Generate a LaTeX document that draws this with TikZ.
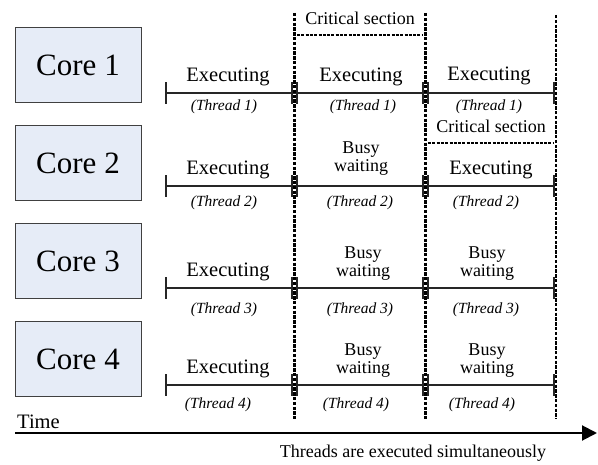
\documentclass[tikz,border=0pt]{standalone}
\usepackage{fontspec}
\setmainfont{Liberation Serif}
\usetikzlibrary{arrows.meta}
\definecolor{corefill}{HTML}{E6ECF7}
\definecolor{coredraw}{HTML}{404040}
\tikzset{
  corebox/.style={draw=coredraw, line width=1pt, fill=corefill, minimum width=126pt, minimum height=75pt, inner sep=0pt, font=\fontsize{31}{34}\selectfont},
  exe/.style={font=\fontsize{20.5}{22}\selectfont, inner sep=0pt},
  busy/.style={font=\fontsize{18}{21}\selectfont, inner sep=0pt, align=center},
  thr/.style={font=\fontsize{15.5}{17}\selectfont\itshape, inner sep=0pt},
  crit/.style={font=\fontsize{18}{20}\selectfont, inner sep=0pt},
  tline/.style={line width=1.6pt, draw=black!85},
  tick/.style={line width=2.2pt, draw=black!85},
  vdash/.style={line width=2.8pt, dash pattern=on 3.5pt off 1.3pt},
  hdash/.style={line width=2pt, dash pattern=on 3pt off 1.3pt},
}
\begin{document}
\begin{tikzpicture}[x=1pt,y=-1pt]
\useasboundingbox (0,0) rectangle (598,465);
% cores
\node[corebox] (c1) at (78,65.5) {Core 1};
\node[corebox] (c2) at (78,163.5) {Core 2};
\node[corebox] (c3) at (78,261) {Core 3};
\node[corebox] (c4) at (78,359) {Core 4};
% timelines
\foreach \r/\y in {1/93,2/186,3/288,4/385}{
  \coordinate (s\r) at (166,\y);
  \coordinate (a\r) at (292,\y);
  \coordinate (b\r) at (297,\y);
  \coordinate (m\r) at (423,\y);
  \coordinate (n\r) at (428,\y);
  \coordinate (e\r) at (554,\y);
  \draw[tline] (s\r) -- (e\r);
  \draw[tick] ([yshift=-11pt]s\r) -- ([yshift=11pt]s\r);
  \draw[tick] ([yshift=-11pt]a\r) -- ([yshift=11pt]a\r);
  \draw[tick] ([yshift=-11pt]b\r) -- ([yshift=11pt]b\r);
  \draw[tick] ([yshift=-11pt]m\r) -- ([yshift=11pt]m\r);
  \draw[tick] ([yshift=-11pt]n\r) -- ([yshift=11pt]n\r);
  \draw[tick] ([yshift=-11pt]e\r) -- ([yshift=11pt]e\r);
}
% vertical dashed lines
\coordinate (v1t) at (294.5,13); \coordinate (v1b) at (294.5,419);
\coordinate (v2t) at (425.5,13); \coordinate (v2b) at (425.5,419);
\coordinate (v3t) at (556,15); \coordinate (v3b) at (556,419);
\draw[vdash] (v1t) -- (v1b);
\draw[vdash] (v2t) -- (v2b);
\draw[vdash] (v3t) -- (v3b);
% critical sections
\node[crit] (cs1) at (360,18) {Critical section};
\coordinate (cs1a) at (297,35); \coordinate (cs1b) at (423,35);
\draw[hdash] (cs1a) -- (cs1b);
\node[crit] (cs2) at (491,126) {Critical section};
\coordinate (cs2a) at (428,143); \coordinate (cs2b) at (553,143);
\draw[hdash] (cs2a) -- (cs2b);
% row 1
\node[exe] (r1e1) at (228,77) {Executing};
\node[thr] (r1t1) at (224,107) {(Thread 1)};
\node[exe] (r1e2) at (361,77) {Executing};
\node[thr] (r1t2) at (363,107) {(Thread 1)};
\node[exe] (r1e3) at (489,76) {Executing};
\node[thr] (r1t3) at (489,107) {(Thread 1)};
% row 2
\node[exe] (r2e1) at (228,170) {Executing};
\node[thr] (r2t1) at (224,203) {(Thread 2)};
\node[busy] (r2b2) at (361,158.5) {Busy\\[-3pt]waiting};
\node[thr] (r2t2) at (360,203) {(Thread 2)};
\node[exe] (r2e3) at (491,170) {Executing};
\node[thr] (r2t3) at (486,203) {(Thread 2)};
% row 3
\node[exe] (r3e1) at (228,272) {Executing};
\node[thr] (r3t1) at (224,310) {(Thread 3)};
\node[busy] (r3b2) at (363,263.5) {Busy\\[-3pt]waiting};
\node[thr] (r3t2) at (360,310) {(Thread 3)};
\node[busy] (r3b3) at (487,263.5) {Busy\\[-3pt]waiting};
\node[thr] (r3t3) at (486,310) {(Thread 3)};
% row 4
\node[exe] (r4e1) at (228,369) {Executing};
\node[thr] (r4t1) at (218,405) {(Thread 4)};
\node[busy] (r4b2) at (363,360.5) {Busy\\[-3pt]waiting};
\node[thr] (r4t2) at (356,405) {(Thread 4)};
\node[busy] (r4b3) at (487,360.5) {Busy\\[-3pt]waiting};
\node[thr] (r4t3) at (482,405) {(Thread 4)};
% time axis
\node[exe, anchor=west] (time) at (17,422) {Time};
\coordinate (ta) at (15,433);
\coordinate (tb) at (597,433);
\draw[line width=2pt, -{Triangle[length=15pt,width=15pt]}] (ta) -- (tb);
\node[crit] (sim) at (413,453) {Threads are executed simultaneously};
\end{tikzpicture}
\end{document}
